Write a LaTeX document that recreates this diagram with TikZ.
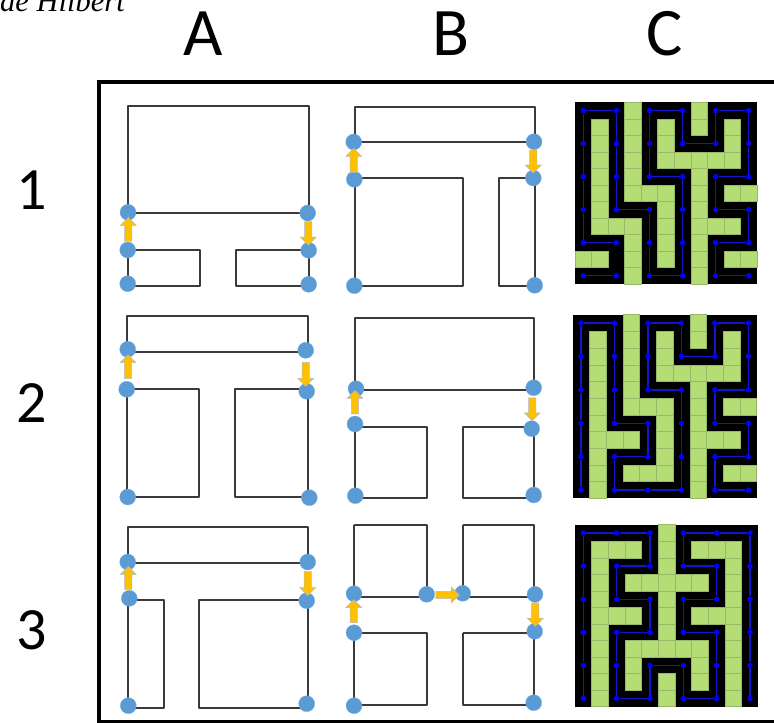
\documentclass[tikz,border=0pt]{standalone}
\usepackage{fontspec}
\setmainfont{Carlito}
\newfontfamily\serifit{Liberation Serif}
\usetikzlibrary{shapes.arrows}
\definecolor{dotblue}{HTML}{5B9BD5}
\definecolor{arrowgold}{HTML}{FFC000}
\definecolor{arrowedge}{HTML}{A9BDD0}
\definecolor{cellgreen}{HTML}{B5DD76}
\definecolor{celledge}{HTML}{98B868}
\definecolor{mazeblue}{HTML}{0000FF}
\definecolor{mazewire}{HTML}{1414D0}
\definecolor{wirecol}{HTML}{3A3A3A}
\tikzset{
  wire/.style={draw=wirecol,line width=1.7pt,line join=round},
  pin/.style={circle,fill=dotblue,draw=dotblue!80!white,line width=0.3pt,minimum size=16pt,inner sep=0pt},
  blockarrow/.style={single arrow,draw=arrowedge,fill=arrowgold,line width=0.45pt,inner sep=3.4pt,
     single arrow head extend=4.4pt,single arrow tip angle=90,minimum height=#1,outer sep=0pt},
  cell/.style={fill=cellgreen,draw=celledge,line width=0.6pt},
  mazedot/.style={circle,fill=mazeblue,inner sep=0pt,minimum size=5.5pt},
  mazeline/.style={draw=mazewire,line width=1.3pt},
  bigtxt/.style={font=\fontsize{68}{68}\selectfont,anchor=base,inner sep=0pt},
  numtxt/.style={font=\fontsize{60}{60}\selectfont,anchor=base,inner sep=0pt},
}
\newcommand\mazepanel[7]{%
 \begin{scope}[shift={(#2,#3)},x=#4pt,y=-#5pt]
  \fill[black] (0,0) rectangle (11,11);
  \foreach \ca/\ra/\cb/\rb in {#6}{\foreach \cc in {\ca,...,\cb}{\foreach \rr in {\ra,...,\rb}{\draw[cell] (\cc,\rr) rectangle ++(1,1);}}}
  \foreach \ii in {0,...,5}{\foreach \jj in {0,...,5}{\node[mazedot] (#1-\ii-\jj) at ({2*\ii+.5},{2*\jj+.5}) {};}}
  \foreach \aa/\bb in {#7}{\draw[mazeline] (#1-\aa) -- (#1-\bb);}
 \end{scope}}
\begin{document}
\begin{tikzpicture}[x=1pt,y=-1pt]
\clip (0,0) rectangle (774,723);
\fill[white] (0,0) rectangle (774,723);
\node[anchor=base west,inner sep=0pt,font=\fontsize{30.5}{30.5}\selectfont\serifit\itshape] (title) at (0,11.5) {de Hilbert};
\node[bigtxt] (hA) at (203.5,55) {A};
\node[bigtxt] (hB) at (451,55) {B};
\node[bigtxt] (hC) at (665,55) {C};
\node[numtxt] (r1) at (32,209) {1};
\node[numtxt] (r2) at (32,422) {2};
\node[numtxt] (r3) at (32,649) {3};
% frame
\coordinate (fa) at (775,81.8);
\coordinate (fb) at (99.2,81.8);
\coordinate (fc) at (99.2,721.3);
\coordinate (fd) at (775,721.3);
\draw[line width=3.5pt,black,line join=miter] (fa) -- (fb) -- (fc) -- (fd);

% ---- A1
\foreach \n/\p in {a/{128,105.7},b/{308.7,105.7},c/{128,213.3},d/{308.7,213.3},e/{128,250},f/{200.3,250},g/{200.3,286},h/{128,286},i/{236.3,250},j/{236.3,286},k/{308.7,286},l/{308.7,250}}{\coordinate (Aa\n) at (\p);}
\draw[wire] (Aac) -- (Aaa) -- (Aab) -- (Aad) -- (Aac);
\draw[wire] (Aae) -- (Aaf) -- (Aag) -- (Aah) -- (Aae);
\draw[wire] (Aal) -- (Aai) -- (Aaj) -- (Aak) -- (Aal);
\node[pin] (A1tl) at (128,212.3) {};
\node[pin] (A1tr) at (307.7,213) {};
\node[pin] (A1ml) at (127.7,250) {};
\node[pin] (A1mr) at (308.7,250.3) {};
\node[pin] (A1bl) at (127.7,283.7) {};
\node[pin] (A1br) at (308.7,284.3) {};
\node[blockarrow=24pt,rotate=90,anchor=center] (A1u) at (128.3,231.3) {};
\node[blockarrow=23.5pt,rotate=-90,anchor=center] (A1d) at (308.3,231.6) {};

% ---- B1
\foreach \n/\p in {a/{355,106.7},b/{535.3,106.7},c/{355,142},d/{535.3,142},e/{355,178.3},f/{463.3,178.3},g/{463.3,286},h/{355,286},i/{499.3,178.3},j/{499.3,286},k/{535.3,286},l/{535.3,178.3}}{\coordinate (Ab\n) at (\p);}
\draw[wire] (Abc) -- (Aba) -- (Abb) -- (Abd) -- (Abc);
\draw[wire] (Abe) -- (Abf) -- (Abg) -- (Abh) -- (Abe);
\draw[wire] (Abl) -- (Abi) -- (Abj) -- (Abk) -- (Abl);
\node[pin] (B1tl) at (353.7,142) {};
\node[pin] (B1tr) at (534,141.7) {};
\node[pin] (B1ml) at (354.3,179.3) {};
\node[pin] (B1mr) at (533.3,178) {};
\node[pin] (B1bl) at (354.3,285.7) {};
\node[pin] (B1br) at (534.7,285.3) {};
\node[blockarrow=24pt,rotate=90] (B1u) at (353.7,162.2) {};
\node[blockarrow=23pt,rotate=-90] (B1d) at (533.3,159.7) {};

% ---- A2
\foreach \n/\p in {a/{127.3,316.3},b/{307.7,316.3},c/{127.3,352},d/{307.7,352},e/{127.3,388.7},f/{199,388.7},g/{199,496.7},h/{127.3,496.7},i/{235.3,388.7},j/{235.3,496.7},k/{307.7,496.7},l/{307.7,388.7}}{\coordinate (Ac\n) at (\p);}
\draw[wire] (Acc) -- (Aca) -- (Acb) -- (Acd) -- (Acc);
\draw[wire] (Ace) -- (Acf) -- (Acg) -- (Ach) -- (Ace);
\draw[wire] (Acl) -- (Aci) -- (Acj) -- (Ack) -- (Acl);
\node[pin] (A2tl) at (127.7,349.3) {};
\node[pin] (A2tr) at (305.7,350.3) {};
\node[pin] (A2ml) at (126.7,389.3) {};
\node[pin] (A2mr) at (306.7,391.3) {};
\node[pin] (A2bl) at (127.7,497) {};
\node[pin] (A2br) at (309.3,497.7) {};
\node[blockarrow=24pt,rotate=90] (A2u) at (128,368.5) {};
\node[blockarrow=24pt,rotate=-90] (A2d) at (305.7,372.5) {};

% ---- B2
\foreach \n/\p in {a/{355,318.3},b/{534.3,318.3},c/{355,390},d/{534.3,390},e/{355,426.7},f/{427,426.7},g/{427,498.3},h/{355,498.3},i/{462.7,426.7},j/{462.7,498.3},k/{534.3,498.3},l/{534.3,426.7}}{\coordinate (Ad\n) at (\p);}
\draw[wire] (Adc) -- (Ada) -- (Adb) -- (Add) -- (Adc);
\draw[wire] (Ade) -- (Adf) -- (Adg) -- (Adh) -- (Ade);
\draw[wire] (Adl) -- (Adi) -- (Adj) -- (Adk) -- (Adl);
\node[pin] (B2tl) at (356,388.7) {};
\node[pin] (B2tr) at (533.7,387.7) {};
\node[pin] (B2ml) at (355,424) {};
\node[pin] (B2mr) at (531.7,428.7) {};
\node[pin] (B2bl) at (355.3,495.7) {};
\node[pin] (B2br) at (533.7,495) {};
\node[blockarrow=23.5pt,rotate=90] (B2u) at (355,404) {};
\node[blockarrow=23pt,rotate=-90] (B2d) at (532.3,407.5) {};

% ---- A3
\foreach \n/\p in {a/{128,527},b/{307.7,527},c/{128,563},d/{307.7,563},e/{128.3,599.7},f/{163.7,599.7},g/{163.7,707.7},h/{128.3,707.7},i/{199.3,599.7},j/{199.3,707.7},k/{307.7,707.7},l/{307.7,599.7}}{\coordinate (Ae\n) at (\p);}
\draw[wire] (Aec) -- (Aea) -- (Aeb) -- (Aed) -- (Aec);
\draw[wire] (Aee) -- (Aef) -- (Aeg) -- (Aeh) -- (Aee);
\draw[wire] (Ael) -- (Aei) -- (Aej) -- (Aek) -- (Ael);
\node[pin] (A3tl) at (127.7,562) {};
\node[pin] (A3tr) at (307.7,562) {};
\node[pin] (A3ml) at (129.3,598.3) {};
\node[pin] (A3mr) at (306.7,600.7) {};
\node[pin] (A3bl) at (128.3,705.7) {};
\node[pin] (A3br) at (306.7,703.7) {};
\node[blockarrow=23pt,rotate=90] (A3u) at (128.3,579.7) {};
\node[blockarrow=24pt,rotate=-90] (A3d) at (307.7,581.8) {};

% ---- B3
\foreach \n/\p in {a/{354,525},b/{426.7,525},c/{426.7,597},d/{354,597},e/{462.7,525},f/{534.3,525},g/{534.3,597},h/{462.7,597},i/{354,633},j/{426.7,633},k/{426.7,705.3},l/{354,705.3},m/{462.7,633},n/{534.3,633},o/{534.3,705.3},p/{462.7,705.3}}{\coordinate (Af\n) at (\p);}
\draw[wire] (Afa) -- (Afb) -- (Afc) -- (Afd) -- (Afa);
\draw[wire] (Afe) -- (Aff) -- (Afg) -- (Afh) -- (Afe);
\draw[wire] (Afi) -- (Afj) -- (Afk) -- (Afl) -- (Afi);
\draw[wire] (Afm) -- (Afn) -- (Afo) -- (Afp) -- (Afm);
\node[pin] (B3tl) at (354,593.7) {};
\node[pin] (B3tc) at (426.7,594.3) {};
\node[pin] (B3tc2) at (462.7,593.3) {};
\node[pin] (B3tr) at (535,594.3) {};
\node[pin] (B3ml) at (354,632.7) {};
\node[pin] (B3mr) at (534.7,631.3) {};
\node[pin] (B3bl) at (354,705.7) {};
\node[pin] (B3br) at (533.7,702.7) {};
\node[blockarrow=23pt,rotate=90] (B3u) at (353.7,613) {};
\node[blockarrow=23.5pt,rotate=-90] (B3d) at (535.3,612.7) {};
\node[blockarrow=23.5pt] (B3r) at (445.7,595) {};

% ---- C panels
\mazepanel{ca}{575}{102.3}{16.55}{16.52}
 {3/0/3/5,4/5/5/5,5/6/5/9,1/1/1/7,2/7/3/7,3/8/3/10,0/9/1/9,5/1/5/3,6/3/9/3,9/1/9/2,7/0/7/1,7/4/7/10,8/7/9/7,9/5/10/5,9/9/10/9}
 {0-0/1-0,2-0/3-0,4-0/5-0,0-0/0-1,0-1/0-2,0-2/0-3,0-3/0-4,0-4/1-4,1-0/1-1,1-1/1-2,1-2/1-3,1-3/2-3,2-3/2-4,2-4/2-5,2-5/3-5,3-5/3-4,3-4/3-3,3-3/3-2,2-2/3-2,2-2/2-1,2-1/2-0,3-0/3-1,3-1/4-1,4-1/4-0,5-0/5-1,5-1/5-2,4-2/5-2,4-2/4-3,4-3/5-3,5-3/5-4,4-4/5-4,4-4/4-5,4-5/5-5,0-5/1-5}
\mazepanel{cb}{572.7}{314.7}{16.73}{16.7}
 {1/1/1/10,2/7/3/7,3/0/3/5,4/5/5/5,5/6/5/9,3/9/4/9,5/1/5/3,6/3/9/3,9/1/9/2,7/0/7/1,7/4/7/10,8/7/9/7,9/5/10/5,9/9/10/9}
 {0-0/1-0,0-0/0-1,0-1/0-2,0-2/0-3,0-3/0-4,0-4/0-5,1-0/1-1,1-1/1-2,1-2/1-3,1-3/2-3,2-3/2-4,1-4/2-4,1-4/1-5,1-5/2-5,2-5/3-5,3-5/3-4,3-4/3-3,3-3/3-2,2-2/3-2,2-2/2-1,2-1/2-0,2-0/3-0,3-0/3-1,3-1/4-1,4-1/4-0,4-0/5-0,5-0/5-1,5-1/5-2,5-2/4-2,4-2/4-3,4-3/5-3,5-3/5-4,5-4/4-4,4-4/4-5,4-5/5-5}
\mazepanel{cc}{575}{524.7}{16.67}{16.55}
 {1/1/1/10,2/1/3/1,2/5/3/5,9/1/9/10,7/1/8/1,7/5/8/5,5/0/5/7,3/3/4/3,6/3/7/3,3/7/4/7,6/7/7/7,3/8/3/9,7/8/7/9,5/9/5/10}
 {0-0/1-0,1-0/2-0,2-0/2-1,1-1/2-1,1-1/1-2,1-2/2-2,2-2/2-3,1-3/2-3,1-3/1-4,1-4/1-5,1-5/2-5,2-5/2-4,2-4/3-4,3-4/3-5,3-5/4-5,4-5/4-4,4-4/4-3,3-3/4-3,3-3/3-2,3-2/4-2,4-2/4-1,3-1/4-1,3-1/3-0,3-0/4-0,4-0/5-0,5-0/5-1,5-1/5-2,5-2/5-3,5-3/5-4,5-4/5-5,0-0/0-1,0-1/0-2,0-2/0-3,0-3/0-4,0-4/0-5}
\end{tikzpicture}
\end{document}
